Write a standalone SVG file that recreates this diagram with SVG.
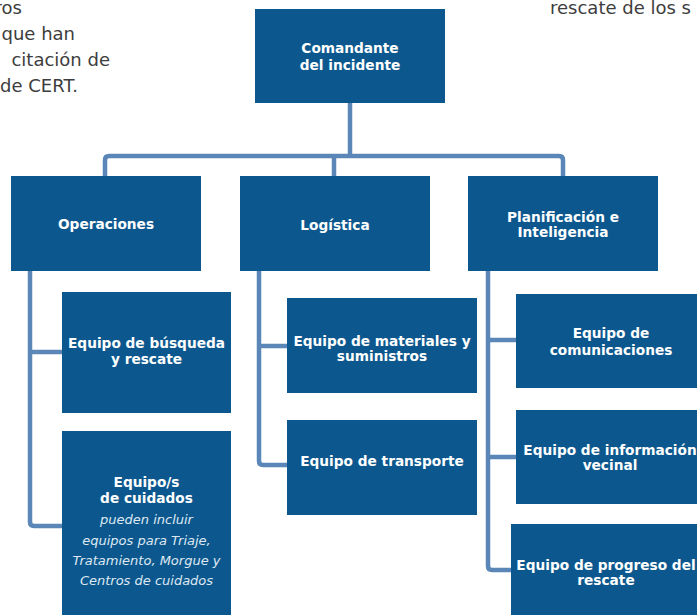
<svg xmlns="http://www.w3.org/2000/svg" width="697" height="615" viewBox="0 0 697 615">
<style>
.box{fill:#0c588e}
.t{font-family:"DejaVu Sans",sans-serif;font-weight:bold;font-size:13.7px;fill:#ffffff;text-anchor:middle}
.it{font-family:"DejaVu Sans",sans-serif;font-style:italic;font-size:13px;fill:#dfe8f2;text-anchor:middle}
.bg{font-family:"DejaVu Sans",sans-serif;font-size:18px;fill:#3d3d3d}
.c{fill:none;stroke:#5a87b8;stroke-width:4.5}
</style>
<rect width="697" height="615" fill="#ffffff"/>
<g id="bgtext">
<text class="bg" x="22" y="14" text-anchor="end">ros</text>
<text class="bg" x="75" y="40" text-anchor="end">que han</text>
<text class="bg" x="110" y="66" text-anchor="end">citación de</text>
<text class="bg" x="78" y="92" text-anchor="end">de CERT.</text>
<text class="bg" x="550" y="14">rescate de los s</text>
</g>
<g id="connectors">
<path class="c" d="M350,103 V156"/>
<path class="c" d="M105,176 V160 Q105,156 109,156 H559 Q563,156 563,160 V176"/>
<path class="c" d="M334,156 V176"/>
<path class="c" d="M30,271 V522 Q30,526 34,526 H62"/>
<path class="c" d="M30,352 H62"/>
<path class="c" d="M259,271 V461 Q259,465 263,465 H287"/>
<path class="c" d="M259,346 H287"/>
<path class="c" d="M488,271 V566 Q488,570 492,570 H511"/>
<path class="c" d="M488,340 H516"/>
<path class="c" d="M488,457 H516"/>
</g>
<g id="comandante">
<rect class="box" x="255" y="9" width="190" height="94"/>
<text class="t" x="350" y="53">Comandante</text>
<text class="t" x="350" y="70">del incidente</text>
</g>
<g id="operaciones">
<rect class="box" x="11" y="176" width="190" height="95"/>
<text class="t" x="106" y="229">Operaciones</text>
</g>
<g id="logistica">
<rect class="box" x="240" y="176" width="190" height="95"/>
<text class="t" x="335" y="230">Logística</text>
</g>
<g id="planificacion">
<rect class="box" x="468" y="176" width="190" height="95"/>
<text class="t" x="563" y="222">Planificación e</text>
<text class="t" x="563" y="237">Inteligencia</text>
</g>
<g id="busqueda">
<rect class="box" x="62" y="292" width="169" height="121"/>
<text class="t" x="146.5" y="348">Equipo de búsqueda</text>
<text class="t" x="146.5" y="364">y rescate</text>
</g>
<g id="cuidados">
<rect class="box" x="62" y="431" width="169" height="190"/>
<text class="t" x="146.5" y="487">Equipo/s</text>
<text class="t" x="146.5" y="503">de cuidados</text>
<text class="it" x="146.5" y="524">pueden incluir</text>
<text class="it" x="146.5" y="545">equipos para Triaje,</text>
<text class="it" x="146.5" y="565">Tratamiento, Morgue y</text>
<text class="it" x="146.5" y="585">Centros de cuidados</text>
</g>
<g id="materiales">
<rect class="box" x="287" y="298" width="190" height="95"/>
<text class="t" x="382" y="346">Equipo de materiales y</text>
<text class="t" x="382" y="361">suministros</text>
</g>
<g id="transporte">
<rect class="box" x="287" y="420" width="190" height="95"/>
<text class="t" x="382" y="466">Equipo de transporte</text>
</g>
<g id="comunicaciones">
<rect class="box" x="516" y="294" width="190" height="94"/>
<text class="t" x="611" y="338">Equipo de</text>
<text class="t" x="611" y="355">comunicaciones</text>
</g>
<g id="informacion">
<rect class="box" x="516" y="410" width="190" height="94"/>
<text class="t" x="610" y="455">Equipo de información</text>
<text class="t" x="610" y="470">vecinal</text>
</g>
<g id="progreso">
<rect class="box" x="511" y="524" width="190" height="96"/>
<text class="t" x="606" y="570">Equipo de progreso del</text>
<text class="t" x="606" y="585">rescate</text>
</g>
</svg>
